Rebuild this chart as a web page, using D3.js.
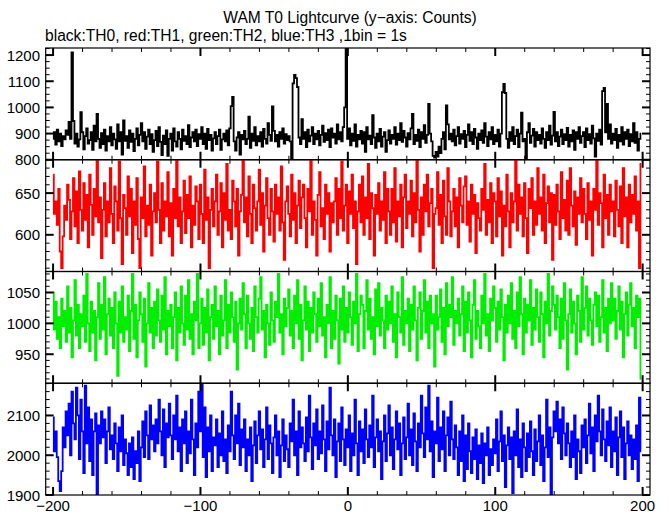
<!DOCTYPE html>
<html><head><meta charset="utf-8">
<script src="https://cdn.jsdelivr.net/npm/d3@7"></script>
<style>body{margin:0;background:#fff}svg{display:block}text{font-family:"Liberation Sans",Arial,sans-serif;fill:#000}</style>
</head><body><svg id="c" width="669" height="515"></svg>
<script>
const timeStart = -200;
const th0 = [
880,905,858,915,870,900,852,890,878,912,
895,945,880,1210,948,862,900,850,878,982,
905,840,890,920,862,875,905,838,930,870,
975,880,845,902,860,915,835,890,870,925,
855,900,878,842,935,870,905,820,950,872,
890,845,912,868,900,833,880,920,855,895,
940,870,905,842,888,915,860,898,830,875,
910,852,925,868,818,892,860,912,815,880,
900,835,920,870,850,905,880,840,915,872,
890,860,932,848,885,905,870,915,852,898,
880,925,860,900,842,918,875,895,835,882,
905,860,890,915,838,878,900,870,912,855,
920,1005,1040,870,835,885,905,820,895,878,
910,860,880,965,845,900,872,925,855,890,
870,905,850,918,880,862,940,895,872,1004,
910,870,895,850,905,880,920,862,898,875,
890,870,805,1092,1124,1112,1078,885,860,955,
880,905,848,915,870,892,925,860,900,878,
910,855,895,930,868,902,875,915,848,920,
885,900,862,935,878,905,870,925,1000,1300,
880,920,855,900,872,935,850,895,878,910,
862,905,830,925,878,892,860,970,885,845,
900,870,918,850,888,905,830,875,912,862,
895,880,925,858,900,875,940,868,910,885,
850,902,878,920,975,860,895,872,915,848,
905,880,932,865,895,1013,900,870,815,808,
830,812,850,825,880,905,840,1008,935,878,
900,870,915,855,890,925,862,898,880,910,
848,895,935,872,905,860,918,885,842,900,
875,912,865,940,888,852,905,878,925,860,
895,870,915,850,900,1058,1090,1055,880,845,
905,872,925,860,890,915,848,900,980,870,
880,800,905,940,865,892,918,850,905,875,
895,862,920,880,845,905,875,930,858,892,
983,870,905,852,888,915,860,898,875,922,
850,895,870,912,838,905,880,925,865,890,
905,848,920,875,898,862,930,882,812,900,
872,915,858,1062,1075,905,1013,880,935,862,
900,875,918,845,895,870,925,858,905,880,
915,852,898,870,940,865,905,835,880,900];
const th1 = [
672,625,640,612,655,580,560,598,635,618,
660,642,595,628,668,610,652,590,676,630,
605,662,618,648,585,672,636,600,655,622,
690,615,645,572,630,662,598,640,615,680,
625,590,658,640,605,688,620,565,648,632,
600,670,622,655,578,640,612,668,595,560,
645,620,682,598,635,612,660,575,628,650,
615,688,630,590,662,605,640,622,675,598,
638,575,655,620,690,610,645,590,628,665,
602,648,620,670,585,635,612,658,640,595,
660,625,590,678,618,645,560,630,655,610,
640,672,600,628,662,585,650,618,685,605,
630,595,665,640,610,655,575,628,648,690,
615,645,598,670,625,590,660,632,605,640,
678,612,650,580,635,668,620,600,655,628,
592,660,625,645,605,682,615,570,640,658,
625,598,672,618,650,590,635,665,608,645,
660,620,585,655,628,690,600,640,618,575,
648,675,610,632,595,660,625,650,580,638,
615,640,668,600,655,620,688,605,635,660,
590,652,625,672,608,640,565,628,660,615,
670,600,645,620,685,595,650,632,575,648,
625,662,605,640,618,675,590,655,628,600,
655,615,680,592,640,622,660,585,645,672,
608,640,625,665,598,650,615,690,630,580,
645,600,660,628,672,610,638,655,560,625,
632,675,612,648,590,665,622,600,680,640,
598,628,655,610,645,585,668,635,615,658,
670,612,640,592,660,625,648,578,638,620,
605,655,630,685,600,642,615,662,590,650,
640,598,668,622,652,575,635,610,672,628,
585,650,615,640,690,605,660,625,645,598,
662,620,578,655,632,668,600,640,612,680,
625,645,605,672,590,638,658,615,650,570,
648,612,660,628,595,675,620,642,605,665,
600,680,635,610,652,588,645,625,668,615,
655,625,595,662,618,640,575,655,630,690,
612,650,638,585,672,620,648,600,660,628,
640,598,665,630,610,658,590,680,622,645,
585,660,615,648,625,670,605,640,560,685];
const th2 = [
1050,990,1035,975,1010,960,1040,995,1020,970,
1060,985,1025,945,1005,1070,980,1030,960,1015,
995,1045,970,1080,1000,955,1035,985,1020,940,
1010,1065,975,1030,990,1075,950,1015,1040,980,
1025,960,1050,1000,915,1035,985,1060,970,1010,
990,1045,955,1020,1080,975,1030,945,1005,1050,
1015,970,1040,930,1000,1065,985,1025,960,1035,
980,1055,1005,970,1045,990,1075,950,1020,995,
1030,960,1010,1050,940,1025,985,1060,1000,965,
1045,990,1070,975,1015,950,1035,1005,1080,960,
1000,1040,965,1025,985,1055,940,1010,1030,975,
1060,995,1020,950,1045,980,1005,1070,960,1030,
985,1050,1010,970,1035,925,1000,1040,990,1065,
1015,960,1045,1000,975,1025,955,1060,1010,985,
1040,1075,990,1020,945,1030,1000,965,1050,1005,
970,1035,1010,1080,985,1015,950,1040,995,1025,
1055,980,1020,960,1045,1000,1070,975,1030,940,
1005,1060,990,1035,955,1025,985,1050,1015,970,
1040,995,1065,980,1010,945,1030,1000,1075,960,
1020,975,1045,1005,935,1040,990,1060,970,1025,
985,1050,1010,965,1035,1000,1080,955,1015,1045,
1030,960,1020,1070,990,1040,975,1010,950,1055,
995,1065,980,1025,1005,960,1045,990,1035,1000,
1060,970,1015,945,1050,1010,985,1075,965,1020,
1000,1040,955,1030,990,1060,1005,940,1025,1050,
975,1020,1070,985,1035,960,1045,1000,1015,930,
1045,990,1010,1055,970,1025,950,1065,995,1030,
1010,1075,965,1020,1000,1040,980,1015,1060,955,
1035,985,1050,1005,945,1030,1070,975,1020,995,
960,1045,1000,1080,980,1015,955,1040,1005,1060,
1025,970,1035,990,1055,1010,940,1030,985,1045,
1000,1065,975,1020,960,1050,995,1075,1015,950,
1040,985,1030,1005,1070,965,1025,990,1055,1010,
970,1050,1015,945,1035,1000,1080,980,1020,1060,
1030,990,1045,1010,960,1040,975,1065,1005,925,
1015,1055,985,1035,1000,950,1045,1020,970,1075,
990,1025,1060,980,1040,1005,965,1030,1050,995,
1045,970,1010,1070,985,1025,955,1040,1000,1065,
1005,1040,975,1020,1060,990,1035,945,1015,1050,
980,1030,1065,995,1025,960,1045,1010,1040,910];
const th3 = [
2095,2010,2060,1995,1935,1910,1960,2070,2020,2110,
2050,2130,2000,2160,2080,2040,2170,2100,1990,2140,
2060,1955,2175,2030,2120,1985,2090,1950,2060,2105,
1900,2075,2030,2110,2045,2090,1980,2060,2120,2015,
2050,1990,2080,2030,1960,2070,2010,2100,1975,2040,
2005,1950,2030,1970,2045,1940,2010,1980,2060,1935,
2020,2085,1995,2110,2050,1990,2125,2040,2075,2010,
2090,2030,2140,2060,2000,2115,1970,2080,2045,2130,
2050,1990,2100,2040,2150,2010,2070,1960,2090,2030,
2110,1980,2060,2005,2140,2040,1950,2080,2020,2160,
2060,2180,1995,2120,1945,2070,2010,2100,1960,2045,
2025,2090,1970,2055,2000,2110,1985,2040,1955,2075,
2010,2160,2050,1990,2100,2030,2130,1975,2065,2020,
2090,1960,2040,2000,2070,1935,2025,2085,1980,2050,
2110,2015,2065,1970,2040,2120,1990,2075,2030,1955,
2045,2100,2000,2060,1945,2025,2090,1985,2050,2015,
1970,2080,2035,2140,2000,2060,1950,2110,2020,2070,
2030,1985,2095,2010,2150,2045,1965,2080,2025,2115,
1990,2060,2005,2125,2040,1960,2085,2015,2170,2050,
2000,2090,1945,2035,2080,1985,2120,2040,1975,2065,
2020,2100,1960,2055,2000,2140,2030,1950,2085,2010,
2065,1980,2115,2040,1995,2075,2020,2150,1970,2045,
2090,2010,2060,1940,2035,2100,1985,2055,2125,2000,
2070,1965,2040,2110,2015,2080,1950,2030,2095,1990,
2045,2130,2000,2065,1975,2105,2035,1960,2080,2020,
2150,2055,1995,2120,2040,2175,2010,2085,1945,2060,
2030,2145,1985,2070,2015,2110,1960,2050,2095,2000,
2135,2040,1990,2075,2020,1950,2060,1985,2100,1935,
2050,1965,2080,2010,1955,2045,1990,2065,1940,2025,
1980,2055,1930,2030,2000,2070,1950,2015,1975,2040,
2005,2090,1960,2035,2110,1985,2050,1920,2025,2070,
1990,2045,1905,2060,2000,2115,1970,2040,1945,2080,
2020,1960,2055,1995,2085,2010,1950,2065,1985,2035,
2100,1975,2050,1935,2020,2140,1995,2070,1900,2045,
2110,2060,2135,2030,2090,1990,2120,2055,2000,2080,
2030,1970,2060,1995,2100,1940,2040,2010,1955,2075,
2020,2090,1980,2050,2130,2005,2070,1960,2100,2035,
2150,2060,2000,2115,2040,1985,2085,2025,2120,1970,
2060,2010,2095,1950,2045,2110,1995,2070,1940,2030,
2085,2000,2050,1965,2040,1990,2075,1935,2145,2010];

const seriesColors = ["#000000", "#ff0000", "#00ee00", "#0000ff"];
const yDomains = [[800, 1227], [556, 690], [903, 1084], [1900, 2181]];
const yTickLabels = [[800, 900, 1000, 1100, 1200], [600, 650], [950, 1000, 1050], [1900, 2000, 2100]];
const yMinorStep = [25, 10, 10, 20];
const xDomain = [-205, 205];
const xTickLabels = [-200, -100, 0, 100, 200];
const xMinorStep = 20;
const titleText = "WAM T0 Lightcurve (y\u2212axis: Counts)";
const subtitleText = "black:TH0, red:TH1, green:TH2, blue:TH3 ,1bin = 1s";

const series = [th0, th1, th2, th3];
const svg = d3.select("#c");
const L = 45.7, R = 650, T = 48, B = 495;
const ph = (B - T) / 4;
const x = d3.scaleLinear().domain(xDomain).range([L, R]);

svg.append("text").attr("x", 350).attr("y", 23).attr("text-anchor", "middle")
  .style("font-size", "15.6px").text(titleText);
svg.append("text").attr("x", 45).attr("y", 41)
  .style("font-size", "15.6px").text(subtitleText);

const xMinor = d3.range(-200, 201, xMinorStep);
const defs = svg.append("defs");

series.forEach((vals, k) => {
  const top = T + k * ph, bot = top + ph;
  const y = d3.scaleLinear().domain(yDomains[k]).range([bot, top]);
  const cid = "clip" + k;
  defs.append("clipPath").attr("id", cid).append("rect")
    .attr("x", L).attr("y", top).attr("width", R - L).attr("height", ph);
  const data = vals.map((v, i) => [timeStart + i, v]);
  const line = d3.line().x(d => x(d[0])).y(d => y(d[1])).curve(d3.curveStep);
  svg.append("path").datum(data).attr("clip-path", `url(#${cid})`)
    .attr("fill", "none").attr("stroke", seriesColors[k]).attr("stroke-width", 1.8)
    .attr("d", line);

  const g = svg.append("g");
  const [y0, y1] = yDomains[k];
  const minors = d3.range(Math.ceil(y0 / yMinorStep[k]) * yMinorStep[k], y1 + 0.001, yMinorStep[k]);
  minors.forEach(v => {
    const major = yTickLabels[k].includes(v);
    const len = major ? 8 : 4;
    [[L, 1], [R, -1]].forEach(([xx, dir]) => {
      g.append("line").attr("x1", xx).attr("x2", xx + dir * len)
        .attr("y1", y(v)).attr("y2", y(v)).attr("stroke", "#000").attr("stroke-width", major ? 2 : 1);
    });
  });
  yTickLabels[k].forEach(v => {
    g.append("text").attr("x", 40).attr("y", y(v) + 5.5).attr("text-anchor", "end")
      .style("font-size", "15px").text(v);
  });
  xMinor.forEach(v => {
    const major = xTickLabels.includes(v);
    const len = major ? 8 : 4;
    [[top, 1], [bot, -1]].forEach(([yy, dir]) => {
      g.append("line").attr("x1", x(v)).attr("x2", x(v))
        .attr("y1", yy).attr("y2", yy + dir * len).attr("stroke", "#000").attr("stroke-width", major ? 2 : 1);
    });
  });
  g.append("rect").attr("x", L).attr("y", top).attr("width", R - L).attr("height", ph)
    .attr("fill", "none").attr("stroke", "#000").attr("stroke-width", 1.2);
});

xTickLabels.forEach(v => {
  svg.append("text").attr("x", x(v)).attr("y", 511).attr("text-anchor", "middle")
    .style("font-size", "15px").text(v < 0 ? "\u2212" + Math.abs(v) : v);
});
</script></body></html>
